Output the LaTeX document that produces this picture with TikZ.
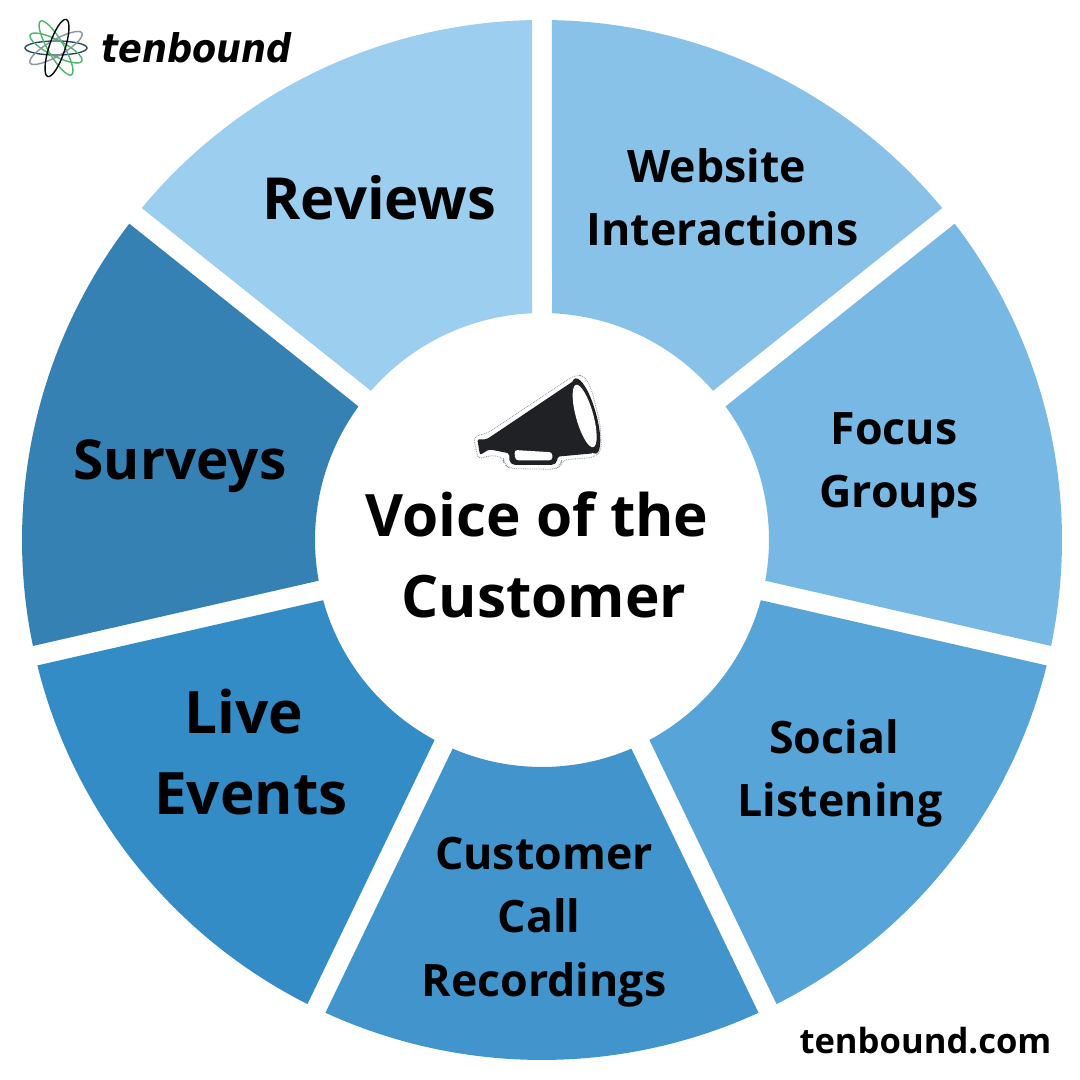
\documentclass[tikz,border=0pt]{standalone}
\usepackage{fontspec}
\setmainfont{Open Sans}[BoldFont={Open Sans Bold}]
\newfontfamily\logofont{DejaVu Sans}[BoldItalicFont={DejaVu Sans Bold Oblique}]
\definecolor{cReviews}{HTML}{9BCEEF}
\definecolor{cWebsite}{HTML}{88C2E9}
\definecolor{cFocus}{HTML}{77B8E4}
\definecolor{cSocial}{HTML}{56A4D8}
\definecolor{cCall}{HTML}{4295CC}
\definecolor{cLive}{HTML}{338CC5}
\definecolor{cSurveys}{HTML}{3681B4}
\definecolor{cHorn}{HTML}{202124}
\definecolor{cGreen}{HTML}{4FB56B}
\definecolor{cGrayE}{HTML}{8C979C}
\definecolor{cNavy}{HTML}{2B4A63}
\tikzset{
  seclabel/.style={font=\bfseries, text=black, inner sep=0pt, anchor=center},
  orbit/.style={line width=1.4pt, draw=#1, fill=none},
  midtext/.style={seclabel,font=\bfseries\fontsize{44.7}{44.7}\selectfont},
  bigtext/.style={seclabel,font=\bfseries\fontsize{58.5}{58.5}\selectfont}
}
% #1 start angle, #2 end angle (clockwise from #1 to #2), #3 colour
\newcommand{\wedgeseg}[3]{%
  \pgfmathsetmacro{\oa}{#1-asin(10/520)}
  \pgfmathsetmacro{\ob}{#2+asin(10/520)}
  \pgfmathsetmacro{\ia}{#1-asin(10/227)}
  \pgfmathsetmacro{\ib}{#2+asin(10/227)}
  \fill[#3] (542,540) ++(\oa:520) arc[start angle=\oa, end angle=\ob, radius=520pt]
     -- ($(542,540)+(\ib:227)$) arc[start angle=\ib, end angle=\ia, radius=227pt] -- cycle;
}
\usetikzlibrary{calc}
\begin{document}
\begin{tikzpicture}[x=1pt,y=1pt]
\useasboundingbox (0,0) rectangle (1080,1080);
\fill[white] (0,0) rectangle (1080,1080);
\wedgeseg{141.43}{90}{cReviews}
\wedgeseg{90}{38.57}{cWebsite}
\wedgeseg{38.57}{-12.86}{cFocus}
\wedgeseg{-12.86}{-64.29}{cSocial}
\wedgeseg{-64.29}{-115.71}{cCall}
\wedgeseg{-115.71}{-167.14}{cLive}
\wedgeseg{-167.14}{-218.57}{cSurveys}

\node[seclabel,font=\bfseries\fontsize{58}{58}\selectfont] (reviews) at (379.5,882) {Reviews};
\node[midtext] (web1) at (717,914) {Website};
\node[midtext] (web2) at (722.5,851) {Interactions};
\node[midtext] (focus1) at (894,651) {Focus};
\node[midtext] (focus2) at (899,583) {Groups};
\node[midtext] (social1) at (834,343) {Social};
\node[midtext] (social2) at (840,275) {Listening};
\node[midtext] (call1) at (544,226) {Customer};
\node[midtext] (call2) at (539,164) {Call};
\node[midtext] (call3) at (544,95) {Recordings};
\node[bigtext] (live1) at (244,368) {Live};
\node[bigtext] (live2) at (251,286) {Events};
\node[seclabel,font=\bfseries\fontsize{55}{55}\selectfont] (surveys) at (180,614) {Surveys};
\node[bigtext] (voice1) at (537,566) {Voice of the};
\node[bigtext] (voice2) at (544,483) {Customer};
\node[seclabel,font=\bfseries\fontsize{34.6}{34.6}\selectfont] (site) at (925.5,1080-1041) {tenbound.com};
\node[seclabel,font=\logofont\bfseries\itshape\fontsize{39.5}{39.5}\selectfont,xscale=0.89,transform shape] (logo) at (196.5,1080-48) {tenbound};

% logo mark
\begin{scope}[shift={(56,1032)}]
  \draw[orbit=cNavy] (0,0) ellipse[x radius=31, y radius=7];
  \draw[orbit=cGreen] (0,0) ellipse[x radius=29, y radius=8, rotate=-27];
  \draw[orbit=cGreen] (0,0) ellipse[x radius=31, y radius=8, rotate=-60];
  \draw[orbit=cGrayE] (0,0) ellipse[x radius=30, y radius=8, rotate=30];
  \draw[orbit=black!85!cNavy] (1,0) ellipse[x radius=30, y radius=8, rotate=72];
\end{scope}

% megaphone (coordinates from a 3x crop at (450,360))
\begin{scope}[shift={(450,720)},x=0.3333pt,y=-0.3333pt]
  \draw[densely dotted,draw=cGrayE,line width=0.8pt,rounded corners=6pt]
    (70,228) -- (108,222) -- (375,45) -- (405,48) -- (425,90) -- (450,190) -- (455,270) -- (435,292)
    -- (335,300) -- (332,318) -- (315,328) -- (180,326) -- (162,312) -- (160,292) -- (118,285) -- (85,300) -- cycle;
  \fill[cHorn,rounded corners=2pt] (82,238) -- (110,238) -- (378,58) -- (430,280) -- (322,290) -- (322,305) -- (310,315) -- (190,315) -- (178,305) -- (178,280) -- (118,268) -- (90,285) -- cycle;
  \fill[cHorn,rotate around={-74.5:(407,168)}] (407,168) ellipse[x radius=117, y radius=32];
  \fill[white,rotate around={-74.5:(404,168)}] (404,168) ellipse[x radius=97, y radius=26];
  \fill[white,rounded corners=3pt] (193,270) -- (307,277) -- (307,301) -- (196,301) -- cycle;
\end{scope}
\end{tikzpicture}
\end{document}
